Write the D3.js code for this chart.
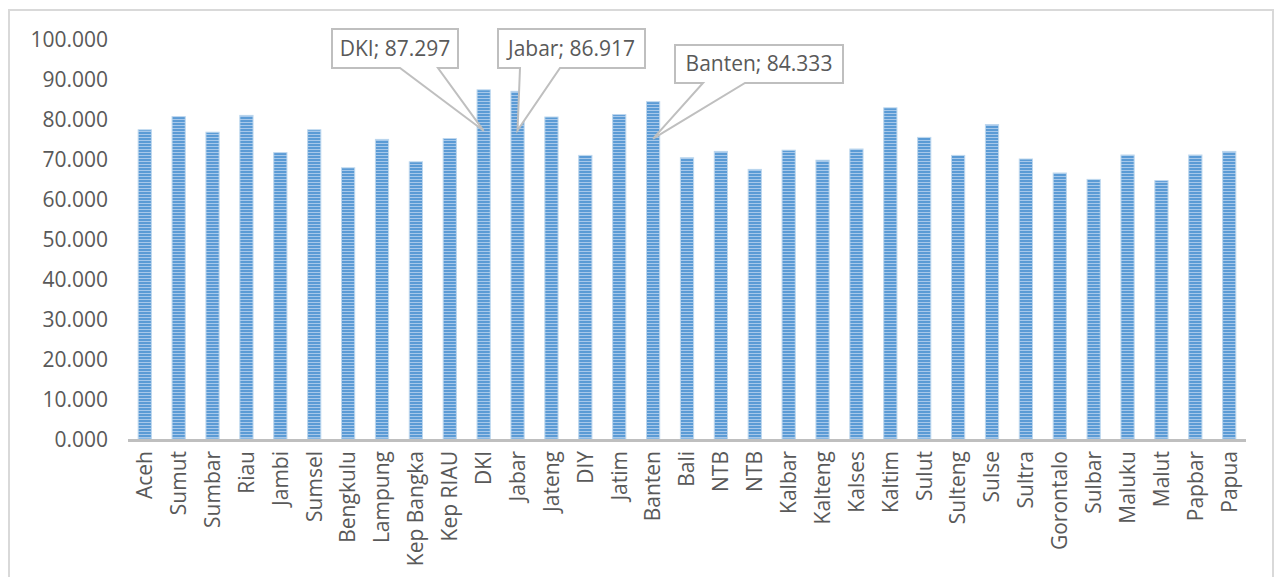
<!DOCTYPE html>
<html>
<head>
<meta charset="utf-8">
<script src="https://cdn.jsdelivr.net/npm/d3@7"></script>
<style>
  body { margin: 0; background: #fff; }
  text { font-family: "Open Sans", sans-serif; fill: #595959; }
</style>
</head>
<body>
<svg id="chart" width="1280" height="577"></svg>
<script>
// provinces along the x axis
let categories = ["Aceh", "Sumut", "Sumbar", "Riau", "Jambi", "Sumsel", "Bengkulu", "Lampung",
  "Kep Bangka", "Kep RIAU", "DKI", "Jabar", "Jateng", "DIY", "Jatim", "Banten", "Bali", "NTB",
  "NTB ", "Kalbar", "Kalteng", "Kalses", "Kaltim", "Sulut", "Sulteng", "Sulse", "Sultra",
  "Gorontalo", "Sulbar", "Maluku", "Malut", "Papbar", "Papua"];

let values = [77.3, 80.6, 76.7, 80.9, 71.6, 77.3, 67.8, 74.9, 69.3, 75.1, 87.297, 86.917, 80.5,
  70.9, 81.1, 84.333, 70.3, 71.9, 67.4, 72.2, 69.7, 72.5, 82.8, 75.4, 70.9, 78.6, 70.0,
  66.5, 64.9, 71.0, 64.6, 71.0, 71.9];

let yTicks = [0, 10, 20, 30, 40, 50, 60, 70, 80, 90, 100];

let svg = d3.select("#chart");
let width = +svg.attr("width");
let height = +svg.attr("height");
let fontSize = 21;

// outer frame
svg.append("rect")
  .attr("x", 9).attr("y", 10)
  .attr("width", 1264).attr("height", 580)
  .attr("fill", "none").attr("stroke", "#d9d9d9").attr("stroke-width", 2);

let x = d3.scaleBand().domain(categories).range([128, 1246]).paddingInner(0.61).paddingOuter(0.3);
let y = d3.scaleLinear().domain([0, 100]).range([439, 39]);

// striped fill like the excel pattern
let defs = svg.append("defs");
let pat = defs.append("pattern").attr("id", "stripes")
  .attr("patternUnits", "userSpaceOnUse").attr("width", 8).attr("height", 3);
pat.append("rect").attr("width", 8).attr("height", 3).attr("fill", "#a7c8ea");
pat.append("rect").attr("width", 8).attr("height", 2).attr("fill", "#5b9bd5");

svg.append("g").selectAll("rect")
  .data(categories)
  .join("rect")
  .attr("x", d => x(d))
  .attr("y", (d, i) => y(values[i]))
  .attr("width", x.bandwidth())
  .attr("height", (d, i) => y(0) - y(values[i]))
  .attr("fill", "url(#stripes)")
  .attr("stroke", "#bdd7ee")
  .attr("stroke-width", 1);

// y axis labels only
let yAxis = svg.append("g")
  .attr("transform", "translate(108,0)")
  .call(d3.axisLeft(y).tickValues(yTicks).tickSize(0).tickPadding(0)
    .tickFormat(d => d3.format(".3f")(d)));
yAxis.select(".domain").remove();
yAxis.selectAll("text")
  .attr("font-size", fontSize).attr("fill", "#595959")
  .style("font-family", "'Open Sans', sans-serif")
  .attr("dy", "0.35em");

// baseline
svg.append("line")
  .attr("x1", 128).attr("x2", 1246)
  .attr("y1", y(0) + 1.5).attr("y2", y(0) + 1.5)
  .attr("stroke", "#bfbfbf").attr("stroke-width", 3);

// x labels, rotated
let xAxis = svg.append("g")
  .attr("transform", "translate(0," + (y(0) + 12) + ")")
  .call(d3.axisBottom(x).tickSize(0).tickPadding(0));
xAxis.select(".domain").remove();
xAxis.selectAll("text")
  .attr("font-size", fontSize).attr("fill", "#595959")
  .style("font-family", "'Open Sans', sans-serif")
  .attr("transform", "rotate(-90)")
  .attr("x", 0).attr("y", 0).attr("dy", "0.35em")
  .attr("text-anchor", "end")
  .text(d => d.trim());

// callouts: box position in px, pointer base span on box bottom
let callouts = [
  {cat: "DKI", box: [332, 29, 126, 39], base: [400, 438], tipDrop: 41},
  {cat: "Jabar", box: [498, 29, 147, 39], base: [520, 560], tipDrop: 39},
  {cat: "Banten", box: [675, 45, 168, 38], base: [703, 745], tipDrop: 37}
];

let cg = svg.append("g");
callouts.forEach(c => {
  let i = categories.indexOf(c.cat);
  let tx = x(c.cat) + x.bandwidth() / 2;
  let ty = y(values[i]) + c.tipDrop;
  let [bx, by, bw, bh] = c.box;
  let bottom = by + bh;
  let pts = [[bx, by], [bx + bw, by], [bx + bw, bottom], [c.base[1], bottom], [tx, ty],
    [c.base[0], bottom], [bx, bottom]];
  cg.append("path")
    .attr("d", d3.line()(pts) + "Z")
    .attr("fill", "#fff").attr("stroke", "#bfbfbf").attr("stroke-width", 2);
  cg.append("text")
    .attr("x", bx + bw / 2).attr("y", by + bh / 2)
    .attr("dy", "0.35em").attr("text-anchor", "middle")
    .attr("font-size", fontSize)
    .text(c.cat + "; " + d3.format(".3f")(values[i]));
});
</script>
</body>
</html>
